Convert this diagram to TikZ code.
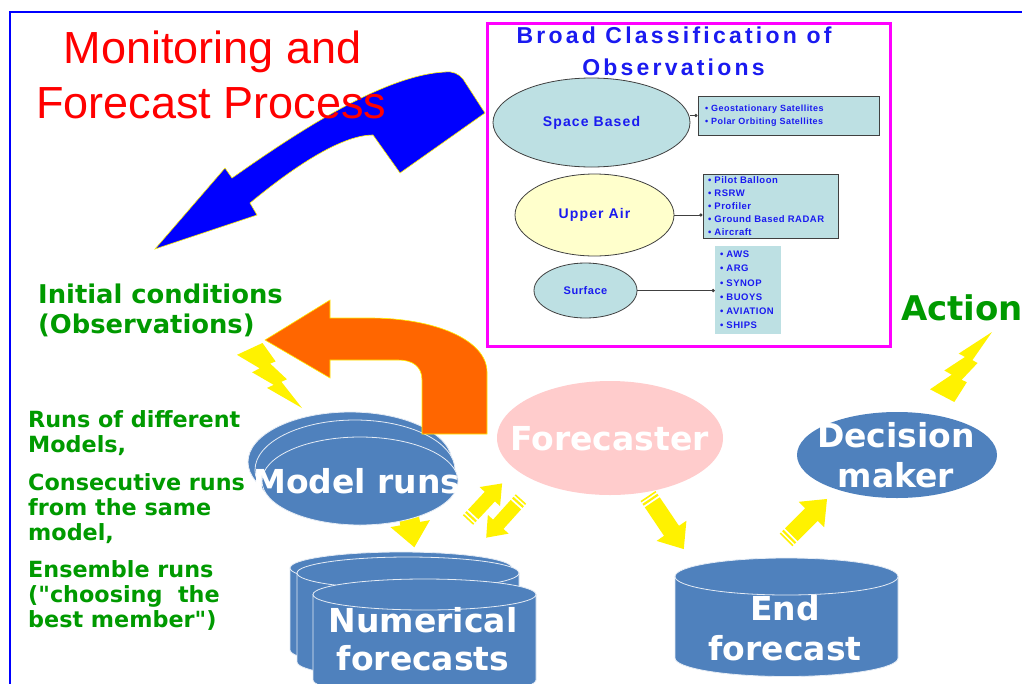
\documentclass[tikz,border=0pt]{standalone}
\usepackage{fontspec}
\setmainfont{Liberation Sans}
\newfontfamily\vfont{DejaVu Sans}
\newfontfamily\spfont{Liberation Sans}
\usetikzlibrary{shapes.geometric,arrows.meta}
\definecolor{pblue}{HTML}{4F81BD}
\definecolor{ppink}{HTML}{FFCCCC}
\definecolor{pteal}{HTML}{BDE0E3}
\definecolor{pcream}{HTML}{FFFFCC}
\definecolor{pgreen}{HTML}{009A00}
\definecolor{ptxt}{HTML}{1A1AF0}
\definecolor{porange}{HTML}{FF6600}
\definecolor{pedge}{HTML}{404040}
\definecolor{pmag}{HTML}{FF00FF}
\newcommand\boltshape{(0.392,0) -- (0,0.182) -- (0.350,0.390) -- (0.231,0.450) -- (0.565,0.644) -- (0.462,0.691) -- (1,1) -- (0.684,0.598) -- (0.767,0.557) -- (0.511,0.317) -- (0.594,0.283) -- cycle}
% x, y, angle, length, shaft half width, head half width, head length
\newcommand\yarrow[7]{%
  \begin{scope}[shift={(#1,#2)},rotate=#3]
    \fill[yellow] (0,-#5) -- ({#4-#7},-#5) -- ({#4-#7},-#6) -- (#4,0) -- ({#4-#7},#6) -- ({#4-#7},#5) -- (0,#5) -- cycle;
  \end{scope}}
\newcommand\ystriped[7]{%
  \begin{scope}[shift={(#1,#2)},rotate=#3]
    \fill[yellow] (0,-#5) rectangle (1.6,#5);
    \fill[yellow] (3.4,-#5) rectangle (5.6,#5);
    \fill[yellow] (7.6,-#5) -- ({#4-#7},-#5) -- ({#4-#7},-#6) -- (#4,0) -- ({#4-#7},#6) -- ({#4-#7},#5) -- (7.6,#5) -- cycle;
  \end{scope}}
% cx, cy(top), rx, ry, bottom cy
\newcommand\pcyl[5]{%
  \filldraw[fill=pblue, draw=white!85!pblue, line width=0.8] ({#1-#3},#2) -- ({#1-#3},#5) arc[start angle=180, end angle=0, x radius=#3, y radius=#4] -- ({#1+#3},#2) -- cycle;
  \filldraw[fill=pblue, draw=white!85!pblue, line width=0.8] (#1,#2) ellipse[x radius=#3, y radius=#4];}
\tikzset{
  obsell/.style={ellipse, draw=pedge, line width=0.8, inner sep=0, text=ptxt},
  listtxt/.style={text=ptxt, align=left, inner ysep=0},
  green/.style={text=pgreen, anchor=north west, align=left, inner sep=0},
  whitetxt/.style={text=white, font={\vfont\bfseries\fontsize{33}{38}\selectfont}},
  mrell/.style={ellipse, fill=pblue, draw=white!85!pblue, line width=0.8, inner sep=0},
  conn/.style={draw=pedge, line width=0.9, -{Circle[length=3.2pt]}}
}
\begin{document}
\begin{tikzpicture}[x=1pt,y=-1pt]
\path[use as bounding box, fill=white] (0,0) rectangle (1022,683);
\clip (0,0) rectangle (1022,683);
\draw[blue, line width=2] (9.5,11.5) rectangle (1040,700);

% observation box
\draw[pmag, line width=3] (487.5,23.5) rectangle (890.5,346.5);
\node[anchor=base, text=ptxt, font={\spfont\bfseries\addfontfeature{LetterSpace=14}\fontsize{23}{23}\selectfont}] (bc1) at (674,43) {Broad Classification of};
\node[anchor=base, text=ptxt, font={\spfont\bfseries\addfontfeature{LetterSpace=14}\fontsize{23}{23}\selectfont}] (bc2) at (673.5,75) {Observations};

\node[obsell, fill=pteal, minimum width=197, minimum height=89, font={\spfont\bfseries\addfontfeature{LetterSpace=8}\fontsize{14}{16}\selectfont}] (sb) at (591.5,122.5) {Space Based};
\node[obsell, fill=pcream, minimum width=159, minimum height=82, font={\spfont\bfseries\addfontfeature{LetterSpace=8}\fontsize{14}{16}\selectfont}] (ua) at (594.5,215) {Upper Air};
\node[obsell, fill=pteal, minimum width=103, minimum height=55, font={\spfont\bfseries\addfontfeature{LetterSpace=5}\fontsize{11}{13}\selectfont}] (sf) at (585.5,290.5) {Surface};

\node[listtxt, draw=pedge, line width=1, fill=pteal, minimum width=181, minimum height=39, text width=167, inner xsep=7, font={\spfont\bfseries\addfontfeature{LetterSpace=5}\fontsize{9}{13}\selectfont}] (geo) at (788.5,115.5) {• Geostationary Satellites\\• Polar Orbiting Satellites};
\node[listtxt, draw=pedge, line width=1, fill=pteal, minimum width=135, minimum height=64, text width=125, inner xsep=5, font={\spfont\bfseries\addfontfeature{LetterSpace=5}\fontsize{9.5}{12.8}\selectfont}] (upl) at (770.5,206) {• Pilot Balloon\\• RSRW\\• Profiler\\• Ground Based RADAR\\• Aircraft};
\node[listtxt, fill=pteal, minimum width=66, minimum height=88, text width=56, inner xsep=5, font={\spfont\bfseries\addfontfeature{LetterSpace=5}\fontsize{9.5}{14.2}\selectfont}] (sfl) at (748,290) {• AWS\\• ARG\\• SYNOP\\• BUOYS\\• AVIATION\\• SHIPS};

\draw[conn] (geo.west -| sb.east) -- (geo.west);
\draw[conn] (ua.east) -- (ua.east -| upl.west);
\draw[conn] (sf.east) -- (sf.east -| sfl.west);

% big blue arrow
\filldraw[fill=blue, draw=yellow, line width=0.6] (232,178) .. controls (300,130) and (385,75) .. (445,72) .. controls (453,71) and (459,74) .. (463,79) -- (485,113) -- (400,173) -- (373,135) .. controls (340,135) and (290,170) .. (250,203) -- (257,215) -- (155,249) -- (225,168) -- cycle;

% title
\node[anchor=base, text=red, font={\fontsize{45}{45}\selectfont}] (t1) at (212.5,63) {Monitoring and};
\node[anchor=base, text=red, font={\fontsize{45}{45}\selectfont}] (t2) at (211.5,118) {Forecast Process};

% green texts
\node[green, font={\vfont\bfseries\fontsize{25.8}{30}\selectfont}] (ic) at (38,283.5) {Initial conditions\\(Observations)};
\node[green, font={\vfont\bfseries\fontsize{22.3}{25.3}\selectfont}] (r1) at (28,410) {Runs of different\\Models,};
\node[green, font={\vfont\bfseries\fontsize{22.3}{25.3}\selectfont}] (r2) at (28,473) {Consecutive runs\\from the same\\model,};
\node[green, font={\vfont\bfseries\fontsize{22.3}{25.3}\selectfont}] (r3) at (28,560) {Ensemble runs\\("choosing\ \ the\\best member")};
\node[anchor=base, text=pgreen, inner sep=0, font={\vfont\bfseries\fontsize{34}{34}\selectfont}] (act) at (962,320) {Action};

% lightning bolts
\begin{scope}[shift={(237,343)}, xscale=65, yscale=65]
  \fill[yellow] \boltshape;
\end{scope}
\begin{scope}[shift={(930,402)}, xscale=62, yscale=-70]
  \fill[yellow] \boltshape;
\end{scope}

% yellow arrows
\yarrow{406}{500}{-80}{48}{10}{20}{24}
\ystriped{468}{520}{47}{50}{7}{14}{18}
\ystriped{521}{499}{-132}{52}{7}{14}{18}
\ystriped{648}{496}{-56}{64}{9}{18}{22}
\ystriped{786}{540}{45}{58}{9}{18}{22}

% model runs
\node[mrell, minimum width=204, minimum height=100] (mr1) at (350,462) {};
\node[mrell, minimum width=200, minimum height=100] (mr2) at (355,470) {};
\node[mrell, minimum width=196, minimum height=88] (mr3) at (360,481) {};
\node[whitetxt, anchor=base, inner sep=0] (mrt) at (357,493) {Model runs};

% orange arrow
\filldraw[fill=porange, draw=yellow, line width=0.6] (265,340) -- (330,300) -- (330,318) -- (370,318) .. controls (435,318) and (487,340) .. (487,372) -- (487,434) -- (422,434) -- (422,380) .. controls (422,366) and (412,360) .. (398,360) -- (330,360) -- (330,378) -- cycle;

% forecaster and decision maker
\node[ellipse, fill=ppink, inner sep=0, minimum width=226, minimum height=114] (fc) at (610,438) {};
\node[whitetxt, anchor=base, inner sep=0] (fct) at (609.5,450) {Forecaster};
\node[ellipse, fill=pblue, inner sep=0, minimum width=200, minimum height=86] (dm) at (897,455) {};
\node[whitetxt, anchor=north, align=center, inner sep=0, font={\vfont\bfseries\fontsize{33}{40}\selectfont}] (dmt) at (896,422) {Decision\\maker};

% numerical forecasts cylinders
\pcyl{401}{568}{111}{16}{650}
\pcyl{408}{573}{111}{16}{662}
\pcyl{424.5}{594.5}{111.5}{15.5}{680}
\node[whitetxt, anchor=north, align=center, inner sep=0] (nf) at (423,607) {Numerical\\forecasts};

% end forecast cylinder
\pcyl{786.5}{576.5}{111.5}{18.5}{658}
\node[whitetxt, anchor=north, align=center, inner sep=0, font={\vfont\bfseries\fontsize{33}{40}\selectfont}] (ef) at (785,595) {End\\forecast};
\end{tikzpicture}
\end{document}
